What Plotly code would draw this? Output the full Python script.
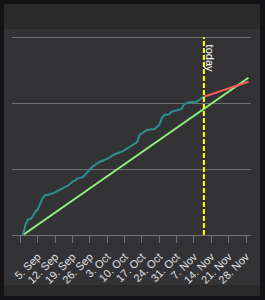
import plotly.graph_objects as go

# Actual progress (teal)
actual_dates = [
    "2016-08-30", "2016-08-31", "2016-09-01", "2016-09-02", "2016-09-03", "2016-09-04",
    "2016-09-05", "2016-09-06", "2016-09-07", "2016-09-08", "2016-09-09", "2016-09-11",
    "2016-09-13", "2016-09-15", "2016-09-17", "2016-09-19", "2016-09-20", "2016-09-21",
    "2016-09-23", "2016-09-24", "2016-09-26", "2016-09-27", "2016-09-30", "2016-10-02",
    "2016-10-04", "2016-10-06", "2016-10-09", "2016-10-12", "2016-10-14", "2016-10-15",
    "2016-10-16", "2016-10-18", "2016-10-19", "2016-10-21", "2016-10-22", "2016-10-24",
    "2016-10-25", "2016-10-26", "2016-10-28", "2016-10-29", "2016-10-31", "2016-11-02",
    "2016-11-03", "2016-11-05", "2016-11-08", "2016-11-10", "2016-11-11",
]
actual_values = [
    0, 15.2, 23.8, 23.8, 28.8, 35.4,
    39.0, 48.1, 56.6, 60.7, 60.7, 63.3,
    66.8, 70.9, 74.4, 80.9, 82.4, 86.0,
    87.6, 91.0, 98.6, 103.6, 111.2, 113.8,
    117.9, 122.5, 126.4, 134.0, 138.1, 140.7,
    151.7, 156.8, 159.3, 160.4, 160.4, 166.9,
    177.1, 182.1, 183.2, 187.1, 189.7, 191.2,
    198.3, 201.4, 202.3, 207.4, 209.9,
]

# Ideal line (green)
ideal_dates = ["2016-08-30", "2016-11-29"]
ideal_values = [0, 238.7]

# Forecast (red)
forecast_dates = ["2016-11-11", "2016-11-29"]
forecast_values = [209.9, 232.6]

# Today marker
today_date = "2016-11-11"
today_values = [0, 300]

fig = go.Figure()

fig.add_trace(go.Scatter(x=ideal_dates, y=ideal_values, mode="lines",
                         line=dict(color="#90ee7e", width=2), hoverinfo="skip"))
fig.add_trace(go.Scatter(x=actual_dates, y=actual_values, mode="lines",
                         line=dict(color="#2b908f", width=2), hoverinfo="skip"))
fig.add_trace(go.Scatter(x=forecast_dates, y=forecast_values, mode="lines",
                         line=dict(color="#f45b5b", width=2), hoverinfo="skip"))
fig.add_trace(go.Scatter(x=[today_date, today_date], y=today_values, mode="lines",
                         line=dict(color="#ffff00", width=2, dash="5px,2px"), hoverinfo="skip"))

L, R, T, B = 12, 14, 29, 65
W, H = 265, 300
pw, ph = W - L - R, H - T - B


def px_x(px):
    return (px - L) / pw


def px_y(py):
    return (H - B - py) / ph


shapes = [
    dict(type="rect", xref="paper", yref="paper", layer="below",
         x0=px_x(4), x1=px_x(260), y0=px_y(296), y1=px_y(4),
         fillcolor="#2a2a2b", line=dict(width=0)),
    dict(type="rect", xref="paper", yref="paper", layer="below",
         x0=px_x(4), x1=px_x(260), y0=px_y(285), y1=px_y(29),
         fillcolor="#333335", line=dict(width=0)),
]

fig.update_layout(
    width=W, height=H, autosize=False,
    margin=dict(l=L, r=R, t=T, b=B, pad=0),
    paper_bgcolor="#131315", plot_bgcolor="rgba(0,0,0,0)",
    showlegend=False,
    shapes=shapes,
    font=dict(family="Liberation Sans, Arial, sans-serif", color="#E0E0E3", size=11),
    xaxis=dict(
        type="date",
        range=["2016-08-25 14:00", "2016-11-30"],
        tick0="2016-09-05", dtick=7 * 24 * 3600 * 1000,
        tickformat="%-d. %b", tickangle=-45,
        ticks="outside", ticklen=7, tickcolor="#707073", tickwidth=1,
        ticklabelstandoff=3,
        showline=True, linecolor="#707073", linewidth=1,
        showgrid=False, zeroline=False,
        tickfont=dict(size=11, color="#E0E0E3"),
        fixedrange=True,
    ),
    yaxis=dict(
        range=[0, 312.6],
        tickvals=[100, 200, 300],
        showticklabels=False,
        showgrid=True, gridcolor="#707073", gridwidth=1,
        zeroline=False, showline=False,
        fixedrange=True,
    ),
    annotations=[
        dict(x=today_date, xref="x", y=px_y(58.5), yref="paper",
             xanchor="center", yanchor="middle",
             text="today", textangle=90, showarrow=False, xshift=7,
             font=dict(color="#ffffff", size=11)),
    ],
)

fig.write_html("out.html", config={"displayModeBar": False})
